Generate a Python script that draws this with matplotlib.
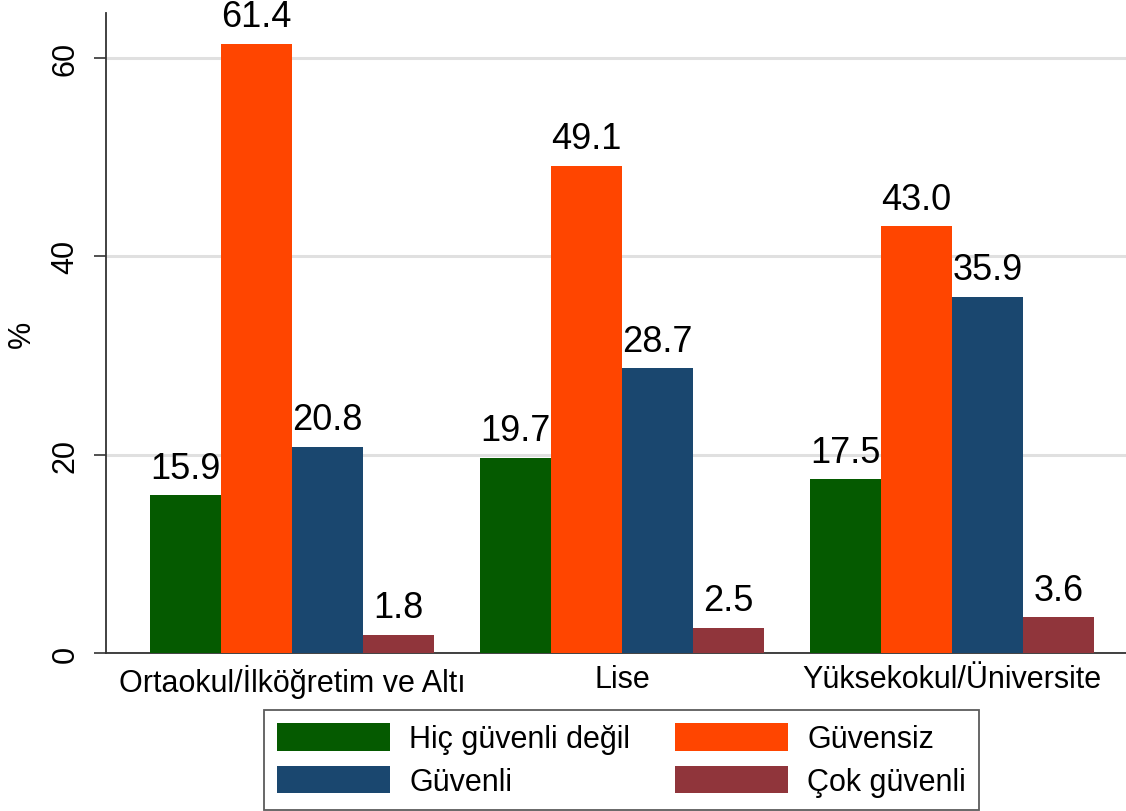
import numpy as np
import matplotlib
matplotlib.use("Agg")
import matplotlib.pyplot as plt

plt.rcParams['font.family'] = ['Liberation Sans', 'DejaVu Sans']

# Eğitim grupları ve güven düzeyleri (%)
groups = ["Ortaokul/İlköğretim ve Altı", "Lise", "Yüksekokul/Üniversite"]
series = ["Hiç güvenli değil", "Güvensiz", "Güvenli", "Çok güvenli"]
hic_guvenli_degil = [15.9, 19.7, 17.5]
guvensiz = [61.4, 49.1, 43.0]
guvenli = [20.8, 28.7, 35.9]
cok_guvenli = [1.8, 2.5, 3.6]
colors = ["#055a00", "#ff4500", "#1a476f", "#90353b"]

values = [hic_guvenli_degil, guvensiz, guvenli, cok_guvenli]

fig = plt.figure(figsize=(11.26, 8.12), dpi=100)
ax = fig.add_axes([106 / 1126, 1 - 654 / 812, 1 - 106 / 1126, (654 - 14) / 812])

x = np.arange(len(groups))
w = 71 / 330
handles = []
for i, (vals, c) in enumerate(zip(values, colors)):
    pos = x + (i - 1.5) * w
    b = ax.bar(pos, vals, width=w, color=c, label=series[i], zorder=3)
    handles.append(b)
    for p, v in zip(pos, vals):
        ax.annotate(f"{v:.1f}", (p, v), xytext=(0, 7), textcoords="offset points",
                    ha="center", va="bottom", fontsize=26, zorder=4)

ax.set_xlim(-0.5636, 2.527)
ax.set_ylim(0, 64.5)
ax.set_yticks([0, 20, 40, 60])
ax.set_yticklabels(["0", "20", "40", "60"], rotation=90, va="center", fontsize=22)
ax.set_xticks(x)
ax.set_xticklabels(groups, fontsize=22)
ax.tick_params(axis="x", length=0, pad=8)
ax.tick_params(axis="y", length=8.5, width=1.2, color="#333333", pad=10)
ax.set_ylabel("%", fontsize=22, labelpad=10)

ax.grid(axis="y", color="#e0e0e0", linewidth=2.2, zorder=0)
ax.spines["top"].set_visible(False)
ax.spines["right"].set_visible(False)
for s in ["left", "bottom"]:
    ax.spines[s].set_color("#333333")
    ax.spines[s].set_linewidth(1.3)

# legend fills column by column, so order it to read row by row
order = [0, 2, 1, 3]
leg = fig.legend(handles=[handles[k] for k in order], labels=[series[k] for k in order],
                 ncol=2, loc="center", bbox_to_anchor=(621.5 / 1126, 1 - 761 / 812),
                 fontsize=22, frameon=True, fancybox=False, edgecolor="#333333",
                 handlelength=3.7, handleheight=1.0, handletextpad=0.62,
                 columnspacing=1.47, labelspacing=0.37, borderpad=0.42)
leg.get_frame().set_linewidth(1.3)

fig.savefig("out.png", dpi=100, facecolor="white")
